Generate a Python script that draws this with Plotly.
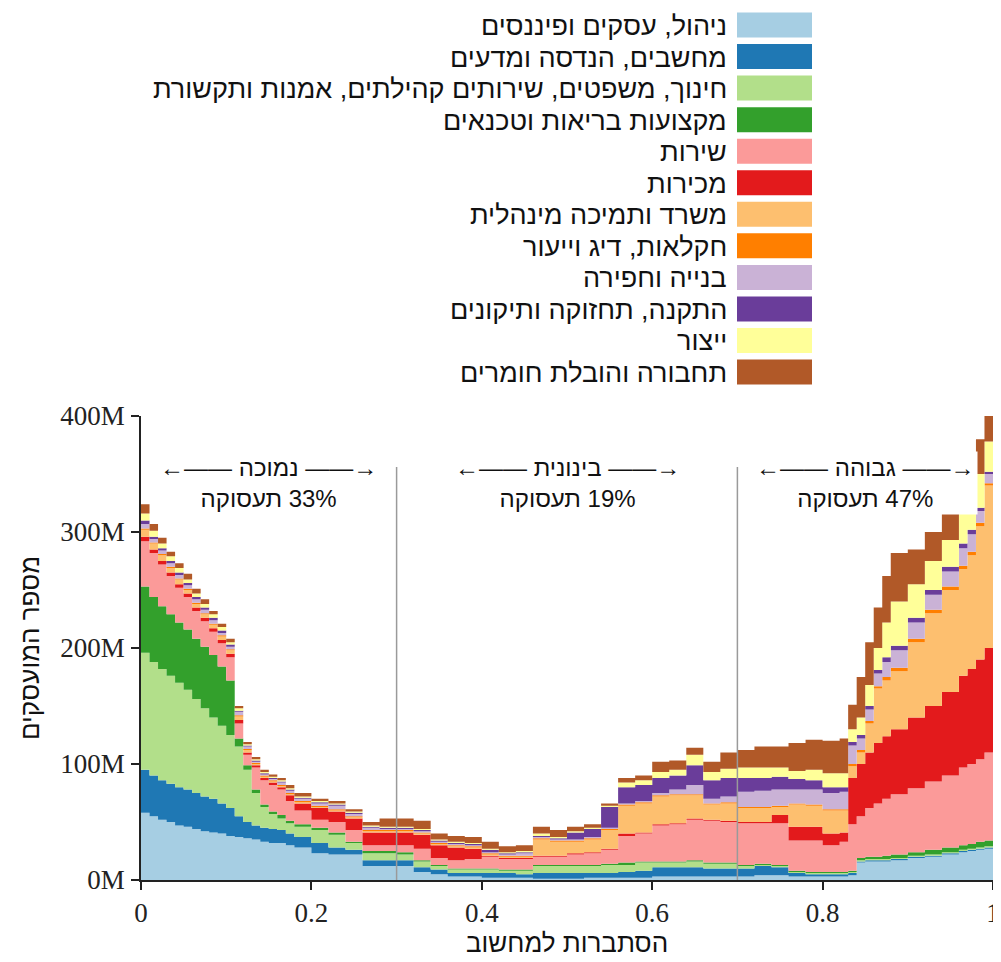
import plotly.graph_objects as go

# ---------------- data (millions of workers, per category thickness) ----------------
x_prob = [0.00, 0.01, 0.02, 0.03, 0.04, 0.05, 0.06, 0.07, 0.08, 0.09, 0.10,
          0.11, 0.12, 0.13, 0.14, 0.15, 0.16, 0.17, 0.18,
          0.20, 0.22, 0.24, 0.26, 0.28, 0.30, 0.32, 0.34, 0.36, 0.38, 0.40, 0.42, 0.44, 0.46,
          0.48, 0.50, 0.52, 0.54, 0.56, 0.58, 0.60, 0.62, 0.64, 0.66, 0.68, 0.70, 0.72, 0.74,
          0.76, 0.78, 0.80, 0.82,
          0.83, 0.84, 0.85, 0.86, 0.87, 0.88, 0.90, 0.92, 0.94, 0.96, 0.97, 0.98, 0.99, 1.00]

categories = [
    "ניהול, עסקים ופיננסים",
    "מחשבים, הנדסה ומדעים",
    "חינוך, משפטים, שירותים קהילתים, אמנות ותקשורת",
    "מקצועות בריאות וטכנאים",
    "שירות",
    "מכירות",
    "משרד ותמיכה מינהלית",
    "חקלאות, דיג וייעור",
    "בנייה וחפירה",
    "התקנה, תחזוקה ותיקונים",
    "ייצור",
    "תחבורה והובלת חומרים",
]

colors = ["#a6cee3", "#1f78b4", "#b2df8a", "#33a02c", "#fb9a99", "#e31a1c",
          "#fdbf6f", "#ff7f00", "#cab2d6", "#6a3d9a", "#ffff99", "#b15928"]

management = [58, 55, 52, 50, 47, 46, 44, 42, 41, 40, 38,
              37, 36, 35, 33, 32, 32, 30, 28,
              23, 22, 22, 12, 12, 12, 7, 5, 3, 3, 2, 2, 2, 1, 1, 1, 2, 2, 2, 2, 3, 3, 3, 3,
              3, 3, 4, 4, 3, 3, 3, 3,
              4, 15, 16, 16, 16, 17, 19, 20, 22, 24, 25, 26, 27, 28]
computers = [37, 35, 34, 33, 33, 32, 31, 30, 29, 26, 24,
             18, 14, 12, 12, 12, 11, 10, 9,
             9, 6, 4, 5, 5, 5, 4, 4, 3, 3, 4, 4, 3, 5, 5, 5, 4, 4, 5, 6, 8, 8, 8, 7,
             7, 7, 8, 7, 3, 2, 2, 2,
             2, 1, 1, 1, 1, 1, 1, 1, 1, 1, 1, 1, 1, 1]
education = [101, 98, 96, 93, 90, 86, 81, 76, 70, 67, 63,
             60, 45, 28, 18, 13, 10, 9, 9,
             11, 11, 6, 6, 6, 5, 5, 3, 3, 3, 3, 2, 3, 6, 6, 6, 6, 7, 6, 7, 4, 4, 5, 4,
             4, 2, 1, 1, 1, 1, 1, 1,
             1, 1, 1, 1, 1, 1, 1, 1, 1, 1, 1, 1, 1, 2]
healthcare = [57, 56, 54, 53, 52, 52, 52, 53, 54, 51, 47,
              7, 4, 3, 2, 2, 3, 2, 2,
              2, 2, 1, 2, 2, 2, 1, 1, 1, 1, 1, 1, 1, 1, 1, 1, 1, 1, 2, 1, 1, 1, 1, 1,
              1, 1, 1, 1, 1, 1, 1, 1,
              1, 2, 2, 2, 3, 3, 3, 4, 4, 4, 4, 5, 5, 5]
service = [39, 38, 36, 33, 30, 28, 24, 22, 20, 20, 20,
           13, 9, 19, 21, 23, 22, 17, 12,
           7, 9, 10, 5, 5, 6, 10, 6, 7, 8, 10, 9, 9, 7, 7, 9, 10, 12, 23, 24, 31, 32, 35, 36,
           35, 36, 35, 36, 26, 27, 23, 26,
           40, 36, 42, 46, 49, 52, 55, 59, 62, 67, 69, 71, 76, 83]
sales = [4, 3, 3, 3, 3, 3, 3, 3, 3, 3, 3,
         3, 2, 2, 2, 2, 2, 5, 6,
         10, 9, 10, 11, 11, 11, 12, 11, 11, 9, 1, 1, 1, 1, 1, 1, 1, 1, 2, 1, 1, 1, 1, 1,
         1, 1, 1, 7, 12, 12, 10, 8,
         40, 45, 48, 52, 54, 56, 61, 65, 72, 79, 82, 86, 90, 90]
office = [6, 5, 5, 4, 4, 3, 3, 3, 3, 3, 3,
          3, 2, 1, 1, 1, 1, 1, 1,
          1, 1, 1, 1, 1, 1, 1, 1, 1, 1, 1, 1, 1, 14, 12, 10, 11, 16, 24, 25, 24, 24, 20, 13,
          15, 12, 12, 7, 19, 18, 20, 19,
          10, 10, 25, 47, 48, 50, 65, 80, 88, 92, 98, 115, 140, 136]
farming = [1, 1, 1, 1, 1, 1, 1, 1, 1, 1, 1,
           1, 1, 1, 1, 1, 1, 1, 1,
           1, 1, 1, 1, 1, 1, 1, 1, 1, 1, 1, 1, 1, 1, 1, 1, 1, 1, 1, 1, 1, 1, 1, 1,
           1, 1, 1, 1, 1, 1, 1, 1,
           2, 2, 2, 2, 3, 3, 3, 3, 3, 3, 3, 3, 2, 2]
construction = [4, 3, 3, 3, 3, 3, 3, 3, 3, 2, 2,
                3, 2, 1, 1, 1, 2, 2, 2,
                2, 3, 2, 2, 1, 1, 1, 1, 1, 1, 1, 1, 2, 1, 1, 1, 1, 1, 1, 1, 2, 4, 8, 4,
                5, 13, 14, 14, 12, 13, 14, 15,
                16, 10, 10, 11, 13, 15, 14, 13, 13, 15, 15, 10, 8, 3]
installation = [3, 2, 2, 2, 2, 2, 2, 2, 2, 2, 2,
                1, 1, 1, 1, 1, 1, 1, 1,
                1, 1, 1, 1, 1, 1, 1, 1, 1, 1, 2, 1, 1, 1, 1, 6, 7, 18, 14, 14, 13, 12, 17, 16,
                16, 12, 11, 11, 9, 8, 5, 4,
                3, 3, 3, 3, 4, 4, 4, 4, 4, 4, 4, 3, 2, 2]
production = [6, 5, 4, 4, 4, 3, 3, 3, 3, 3, 2,
              2, 1, 1, 1, 1, 1, 1, 1,
              1, 1, 1, 1, 1, 1, 1, 1, 1, 1, 1, 1, 1, 2, 1, 1, 1, 1, 4, 4, 5, 5, 9, 7,
              8, 9, 9, 8, 7, 9, 12, 12,
              11, 15, 18, 19, 30, 38, 29, 25, 23, 28, 28, 29, 26, 23]
transport = [8, 6, 5, 4, 4, 5, 4, 4, 3, 3, 3,
             2, 2, 2, 2, 2, 2, 3, 3,
             2, 2, 2, 3, 7, 7, 7, 5, 5, 5, 6, 5, 5, 6, 6, 4, 3, 2, 4, 4, 9, 8, 6, 9,
             14, 15, 18, 18, 24, 26, 28, 30,
             21, 35, 37, 35, 40, 42, 30, 25, 23, 17, 15, 30, 22, 25]

series = [management, computers, education, healthcare, service, sales, office, farming,
          construction, installation, production, transport]

y_tick_vals = [0, 100, 200, 300, 400]
y_tick_text = ["0M", "100M", "200M", "300M", "400M"]
x_tick_vals = [0, 0.2, 0.4, 0.6, 0.8, 1]
x_tick_text = ["0", "0.2", "0.4", "0.6", "0.8", "1"]

zone_bounds = [0.3, 0.7]
zone_names = ["נמוכה", "בינונית", "גבוהה"]
zone_shares = ["33%", "19%", "47%"]
zone_centers = [0.15, 0.5, 0.85]

x_title = "הסתברות למחשוב"
y_title = "מספר המועסקים"

# ---------------- layout constants ----------------
# the page body has an 8px margin, so the figure is made 8px smaller and all
# pixel positions (measured in the 1001x962 window) are shifted by that offset
OFF = 8
W, H = 1001 - OFF, 962 - OFF
ML, MR, MT, MB = 141 - OFF, 8, 416 - OFF, 82
PW, PH = W - ML - MR, H - MT - MB
HEB = "Liberation Sans, DejaVu Sans, sans-serif"
SERIF = "Liberation Serif, DejaVu Serif, serif"


def paper(xp, yp):
    """window pixel -> paper coordinates"""
    xp -= OFF
    yp -= OFF
    return (xp - ML) / PW, (H - MB - yp) / PH


fig = go.Figure()
for name, col, vals in zip(categories, colors, series):
    fig.add_trace(go.Scatter(
        x=x_prob, y=vals, name=name, stackgroup="one", mode="lines",
        line=dict(width=0, shape="hv", color=col), fillcolor=col,
        showlegend=False, hoverinfo="x+y+name"))

shapes = []
for b in zone_bounds:
    shapes.append(dict(type="line", xref="x", yref="y", x0=b, x1=b, y0=0, y1=356,
                       line=dict(color="#9a9a9a", width=1.5), layer="above"))

annotations = []
# custom legend (text on the left, swatch on the right)
for i, (name, col) in enumerate(zip(categories, colors)):
    yc = 25 + 31.55 * i
    x0, y0 = paper(737, yc + 12.5)
    x1, y1 = paper(812, yc - 12.5)
    shapes.append(dict(type="rect", xref="paper", yref="paper", x0=x0, x1=x1, y0=y0, y1=y1,
                       fillcolor=col, line=dict(width=0)))
    tx, ty = paper(729, yc + 1)
    annotations.append(dict(xref="paper", yref="paper", x=tx, y=ty, text=name,
                            showarrow=False, xanchor="right", yanchor="middle",
                            font=dict(family=HEB, size=27, color="#111")))

# zone annotations
for c, nm, sh in zip(zone_centers, zone_names, zone_shares):
    txt = "←—— " + nm + " ——→<br>" + "תעסוקה" + "\u200e " + sh
    annotations.append(dict(xref="x", yref="y", x=c, y=342, text=txt, showarrow=False,
                            xanchor="center", yanchor="middle", align="center",
                            bgcolor="white", borderpad=2,
                            font=dict(family=HEB, size=24, color="#111")))

# axis titles
tx, ty = paper(567, 943)
annotations.append(dict(xref="paper", yref="paper", x=tx, y=ty, text=x_title, showarrow=False,
                        xanchor="center", yanchor="middle",
                        font=dict(family=HEB, size=26, color="#111")))
tx, ty = paper(30, 648)
annotations.append(dict(xref="paper", yref="paper", x=tx, y=ty, text=y_title, showarrow=False,
                        textangle=-90, xanchor="center", yanchor="middle",
                        font=dict(family=HEB, size=26, color="#111")))

axis_common = dict(showgrid=False, zeroline=False, showline=True, linecolor="#222",
                   linewidth=1.5, ticks="outside", ticklen=8, tickwidth=1.5, tickcolor="#222",
                   automargin=False, tickfont=dict(family=SERIF, size=27, color="#222"))

fig.update_layout(
    width=W, height=H, margin=dict(l=ML, r=MR, t=MT, b=MB, autoexpand=False),
    paper_bgcolor="white", plot_bgcolor="white",
    shapes=shapes, annotations=annotations,
    xaxis=dict(range=[0, 1], tickvals=x_tick_vals, ticktext=x_tick_text, **axis_common),
    yaxis=dict(range=[0, 400], tickvals=y_tick_vals, ticktext=y_tick_text,
               ticklabelstandoff=1, **axis_common),
)

fig.write_html("out.html")
